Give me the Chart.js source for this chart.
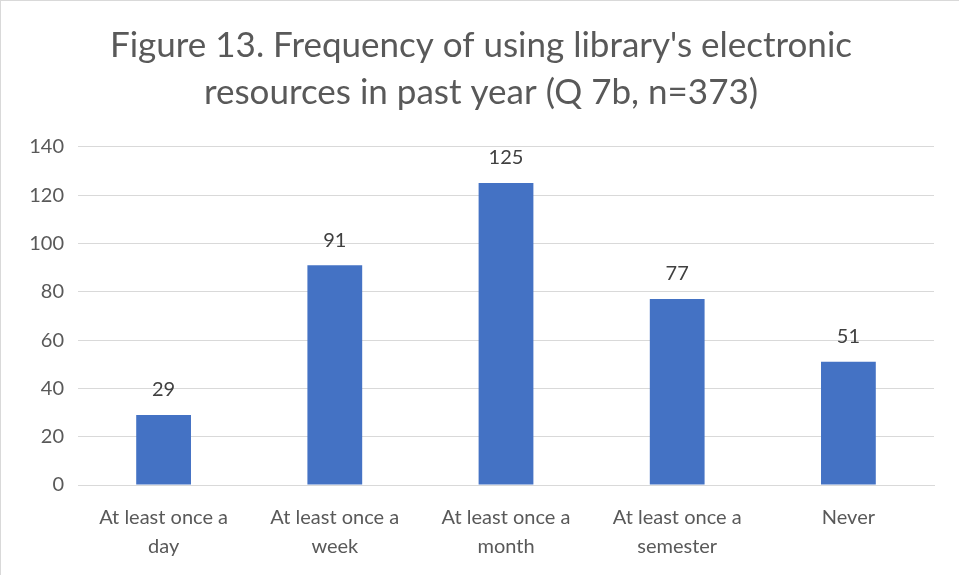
<!DOCTYPE html>
<html>
<head>
<meta charset="utf-8">
<script src="https://cdn.jsdelivr.net/npm/chart.js@4"></script>
<style>
  html, body { margin: 0; padding: 0; background: #fff; }
  #wrap { position: relative; width: 959px; height: 575px; border-left: 1px solid #d9d9d9; border-top: 1px solid #d9d9d9; box-sizing: border-box; }
</style>
</head>
<body>
<div id="wrap"><canvas id="chart"></canvas></div>
<script>
// dados do gráfico
const categorias = [
  ['At least once a', 'day'],
  ['At least once a', 'week'],
  ['At least once a', 'month'],
  ['At least once a', 'semester'],
  'Never'
];
const valores = [29, 91, 125, 77, 51];
const titulo = ["Figure 13. Frequency of using library's electronic", "resources in past year (Q 7b, n=373)"];

const fonte = 'Lato, Carlito, Calibri, sans-serif';

// rótulos acima das barras
const rotulosPlugin = {
  id: 'rotulos',
  afterDatasetsDraw(chart) {
    const ctx = chart.ctx;
    const meta = chart.getDatasetMeta(0);
    ctx.save();
    ctx.font = '20px ' + fonte;
    ctx.fillStyle = '#404040';
    ctx.textAlign = 'center';
    ctx.textBaseline = 'middle';
    meta.data.forEach((bar, i) => {
      ctx.fillText(valores[i], bar.x, bar.y - 25);
    });
    ctx.restore();
  }
};

const ctx = document.getElementById('chart').getContext('2d');
const grafico = new Chart(ctx, {
  type: 'bar',
  data: {
    labels: categorias,
    datasets: [{
      data: valores,
      backgroundColor: '#4472C4',
      barPercentage: 0.32,
      categoryPercentage: 1
    }]
  },
  options: {
    responsive: true,
    maintainAspectRatio: false,
    animation: false,
    layout: { padding: { left: 27, right: 25, top: 0, bottom: 4 } },
    plugins: {
      legend: { display: false },
      tooltip: { enabled: false },
      title: {
        display: true,
        text: titulo,
        color: '#595959',
        font: { family: fonte, size: 35, weight: 'normal', lineHeight: 1.34 },
        padding: { top: 21, bottom: 31 }
      }
    },
    scales: {
      x: {
        grid: { display: false },
        border: { color: '#d9d9d9', width: 1 },
        ticks: {
          color: '#595959',
          font: { family: fonte, size: 20, lineHeight: 1.45 },
          maxRotation: 0,
          autoSkip: false,
          padding: 10
        }
      },
      y: {
        min: 0,
        max: 140,
        afterFit(scale) { scale.width = 50; },
        grid: { color: '#d9d9d9', lineWidth: 1, drawTicks: false },
        border: { display: false },
        ticks: {
          stepSize: 20,
          color: '#595959',
          font: { family: fonte, size: 20 },
          padding: 14
        }
      }
    }
  },
  plugins: [rotulosPlugin]
});
</script>
</body>
</html>
